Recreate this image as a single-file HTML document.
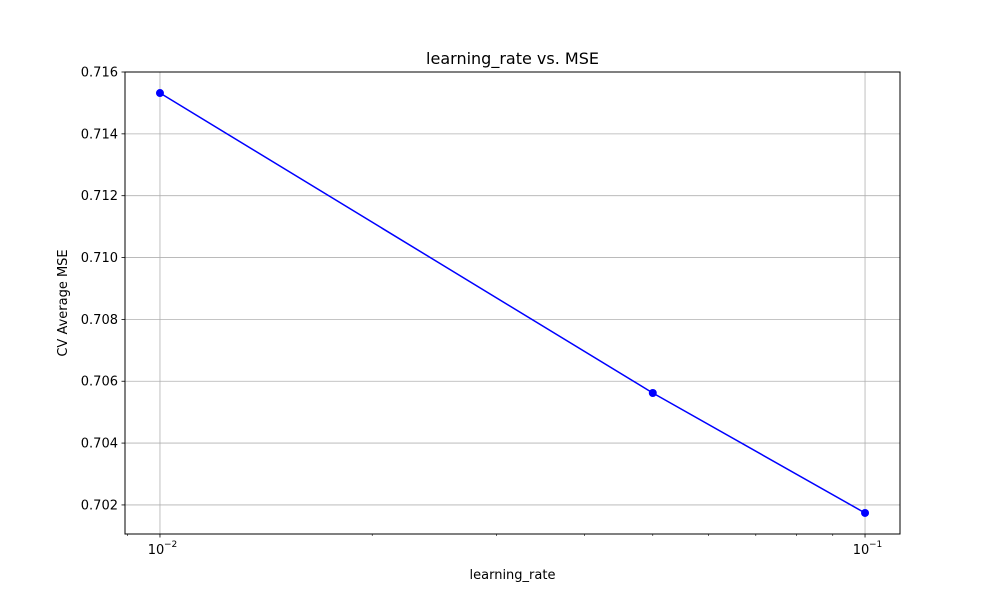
<!DOCTYPE html>
<html><head><meta charset="utf-8"><style>
body{margin:0;background:#fff;}
svg text{font-family:"DejaVu Sans","Liberation Sans",sans-serif;fill:#000;}
</style></head><body>
<svg id="chart" width="1000" height="600" xmlns="http://www.w3.org/2000/svg">
<rect width="1000" height="600" fill="#fff"/>
<g id="grid"></g><g id="ticks"></g><g id="series"></g>
<rect x="125" y="72" width="775" height="462" fill="none" stroke="#000" stroke-width="1"/>
<text x="512.5" y="64" font-size="16" text-anchor="middle">learning_rate vs. MSE</text>
<text x="512.5" y="579" font-size="13" text-anchor="middle">learning_rate</text>
<text transform="translate(67,303) rotate(-90)" font-size="13" text-anchor="middle">CV Average MSE</text>
</svg>
<script>
const learningRates=[0.01,0.05,0.1];
const mseValues=[0.71532,0.70562,0.70174];
const yTicks=[0.702,0.704,0.706,0.708,0.710,0.712,0.714,0.716];
const xMajorTicks=[0.01,0.1];
const xMajorLabels=["10","10"];
const xMajorExps=["−2","−1"];
const xMinorTicks=[0.009,0.02,0.03,0.04,0.05,0.06,0.07,0.08,0.09];
const L=125,R=900,T=72,B=534;
const xMin=-2.0496,xMax=-0.9504,yMin=0.70106,yMax=0.716;
const xs=v=>L+(Math.log10(v)-xMin)/(xMax-xMin)*(R-L);
const ys=v=>B-(v-yMin)/(yMax-yMin)*(B-T);
const NS="http://www.w3.org/2000/svg";
function mk(tag,attrs,parent){const e=document.createElementNS(NS,tag);for(const k in attrs)e.setAttribute(k,attrs[k]);parent.appendChild(e);return e;}
const grid=document.getElementById('grid'),ticks=document.getElementById('ticks'),series=document.getElementById('series');
yTicks.forEach(v=>{const y=ys(v);
 const g=mk('line',{x1:L,x2:R,y1:y,y2:y,stroke:'#b0b0b0','stroke-width':0.8},grid);
 
 
 mk('line',{x1:L-3.5,x2:L,y1:y,y2:y,stroke:'#000','stroke-width':0.8},ticks);
 const t=mk('text',{x:L-7,y:y+4.5,'font-size':13,'text-anchor':'end'},ticks);t.textContent=v.toFixed(3);
 
 
});
xMajorTicks.forEach((v,i)=>{const x=xs(v);
 const g=mk('line',{x1:x,x2:x,y1:T,y2:B,stroke:'#b0b0b0','stroke-width':0.8},grid);
 
 
 mk('line',{x1:x,x2:x,y1:B,y2:B+3.5,stroke:'#000','stroke-width':0.8},ticks);
 const t=mk('text',{x:x-4,y:B+20,'font-size':13,'text-anchor':'middle'},ticks);t.textContent=xMajorLabels[i];
 
 
 const s=mk('text',{x:x+4,y:B+13,'font-size':9,'text-anchor':'start'},ticks);s.textContent=xMajorExps[i];
 
 
});
xMinorTicks.forEach(v=>{const x=xs(v);mk('line',{x1:x,x2:x,y1:B,y2:B+2,stroke:'#000','stroke-width':0.6},ticks);});
const pts=learningRates.map((v,i)=>xs(v)+','+ys(mseValues[i])).join(' ');
const line=mk('polyline',{points:pts,fill:'none',stroke:'#0000ff','stroke-width':1.5},series);


learningRates.forEach((v,i)=>{const c=mk('circle',{cx:xs(v),cy:ys(mseValues[i]),r:4,fill:'#0000ff'},series);
 
 
});
</script>
</body></html>
